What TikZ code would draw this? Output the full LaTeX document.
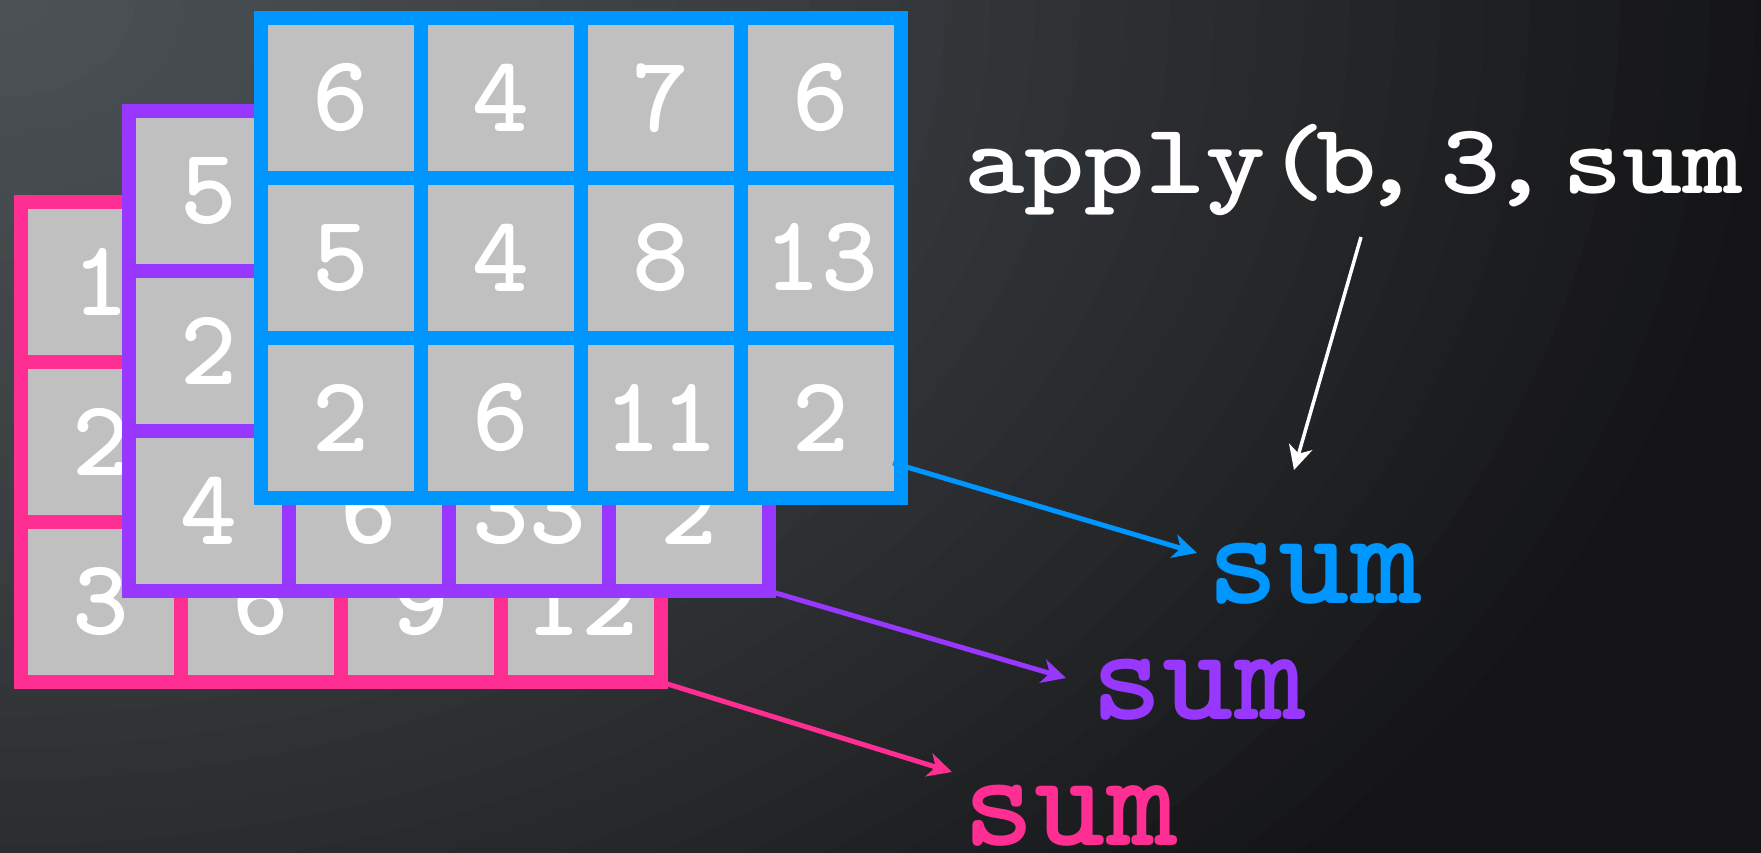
\documentclass[tikz,border=0pt]{standalone}
\usepackage{fontspec}
\usetikzlibrary{arrows.meta}
\definecolor{gblue}{RGB}{0,150,255}
\definecolor{gpurple}{RGB}{152,56,255}
\definecolor{gpink}{RGB}{255,46,146}
\definecolor{cellgray}{RGB}{192,192,192}
\definecolor{bgA}{RGB}{76,82,86}
\definecolor{bgB}{RGB}{20,20,22}
\newcommand\gridlines[3]{%
  \foreach \i in {1,2,3} \draw[gline=#3] ({#1+160*\i},#2) -- ({#1+160*\i},{#2+480});
  \foreach \j in {1,2} \draw[gline=#3] (#1,{#2+160*\j}) -- ({#1+640},{#2+160*\j});
}
\begin{document}
\begin{tikzpicture}[x=1pt,y=-1pt,
  frame/.style={draw=#1, line width=14pt, fill=cellgray, minimum width=640pt, minimum height=480pt, inner sep=0pt, outer sep=0pt, anchor=north west, line join=miter},
  gline/.style={draw=#1, line width=14pt},
  digit/.style={text=white, font=\ttfamily\bfseries\fontsize{108}{108}\selectfont, inner sep=0pt},
  lbl/.style={text=#1, font=\ttfamily\bfseries\fontsize{136}{136}\selectfont, inner sep=0pt, anchor=base west},
  arr/.style={draw=#1, line width=5pt, -{Stealth[length=24pt,width=24pt,inset=7pt]}}
]
\useasboundingbox (0,0) rectangle (1761,853);
\clip (0,0) rectangle (1761,853);
\fill[bgB] (0,0) rectangle (1761,853);
\foreach \k in {40,39,...,1} {
  \pgfmathsetmacro\dd{\k/40}
  \pgfmathsetmacro\pp{\dd<0.45 ? 100-75.4*\dd : 120.2*(1-\dd)}
  \fill[bgA!\pp!bgB] (0,0) ellipse ({1800*\dd} and {1300*\dd});
}

% pink layer
\node[frame=gpink] (pinkG) at (21,202) {};
\gridlines{21}{202}{gpink}
\node[digit] (p11) at (101,282) {1};
\node[digit] (p12) at (101,442) {2};
\node[digit] (p13) at (101,602) {3};
\node[digit] (p23) at (261,602) {6};
\node[digit] (p33) at (421,602) {9};
\node[digit] (p43) at (581,602) {12};

% purple layer
\node[frame=gpurple] (purpleG) at (129,111) {};
\gridlines{129}{111}{gpurple}
\node[digit] (u11) at (209,191) {5};
\node[digit] (u12) at (209,351) {2};
\node[digit] (u13) at (209,511) {4};
\node[digit] (u23) at (369,511) {6};
\node[digit] (u33) at (529,511) {33};
\node[digit] (u43) at (689,511) {2};

% blue layer
\node[frame=gblue] (blueG) at (261,18) {};
\gridlines{261}{18}{gblue}
\node[digit] (b11) at (341,98) {6};
\node[digit] (b21) at (501,98) {4};
\node[digit] (b31) at (661,98) {7};
\node[digit] (b41) at (821,98) {6};
\node[digit] (b12) at (341,258) {5};
\node[digit] (b22) at (501,258) {4};
\node[digit] (b32) at (661,258) {8};
\node[digit] (b42) at (821,258) {13};
\node[digit] (b13) at (341,418) {2};
\node[digit] (b23) at (501,418) {6};
\node[digit] (b33) at (661,418) {11};
\node[digit] (b43) at (821,418) {2};

% labels
\node[anchor=base west, inner sep=0pt, text=white, font=\ttfamily\bfseries\fontsize{100}{100}\selectfont] (apply) at (964,194)
  {\scalebox{1.15}[1]{apply(\hspace{-9pt}b\hspace{-14pt},\hspace{17pt}3\hspace{-10pt},\hspace{11pt}sum\hspace{10pt})}};
\node[lbl=gblue] (sumB) at (1207,603) {sum};
\node[lbl=gpurple] (sumU) at (1091,719) {sum};
\node[lbl=gpink] (sumP) at (963,845) {sum};

% arrows
\coordinate (ws) at (1361,237);
\coordinate (wt) at (1294,470);
\coordinate (bs) at (893,463);
\coordinate (bt) at (1197,553);
\coordinate (ut) at (1066,678);
\coordinate (pt) at (952,772);
\draw[draw=white, line width=3.5pt, -{Stealth[length=24pt,width=24pt,inset=7pt]}] (ws) -- (wt);
\draw[arr=gblue] (bs) -- (bt);
\draw[arr=gpurple] (purpleG.south east) -- (ut);
\draw[arr=gpink] (pinkG.south east) -- (pt);
\end{tikzpicture}
\end{document}
